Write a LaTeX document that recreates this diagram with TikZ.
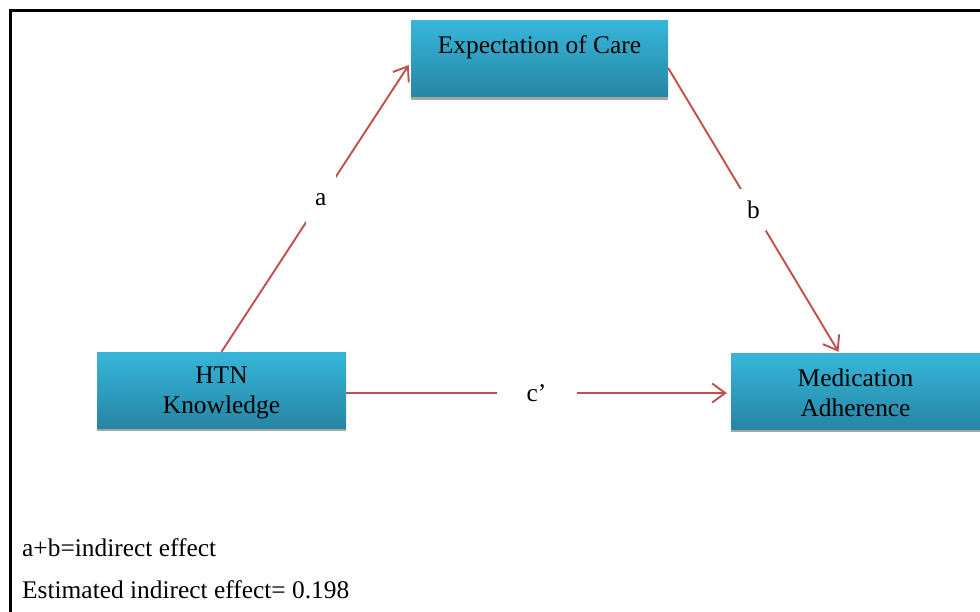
\documentclass[tikz,border=0pt]{standalone}
\usepackage{fontspec}
\setmainfont{Liberation Serif}
\usetikzlibrary{arrows.meta,shadows}
\definecolor{boxtop}{RGB}{54,182,218}
\definecolor{boxbot}{RGB}{38,134,164}
\definecolor{arrowred}{RGB}{192,80,77}
\begin{document}
\begin{tikzpicture}[x=1pt,y=-1pt,
  every node/.style={font=\fontsize{25.4}{30}\selectfont, text=black},
  box/.style={rectangle, inner sep=0pt, top color=boxtop, bottom color=boxbot, draw=none,
    minimum width=249pt, minimum height=76pt, align=center,
    drop shadow={shadow xshift=0pt, shadow yshift=-3pt, fill=black!35, opacity=1}},
  boxtext/.style={inner sep=0pt, align=center},
  conn/.style={draw=arrowred, line width=1.9pt, -{Straight Barb[length=13pt,width=19pt,line width=1.9pt]}},
  gaplabel/.style={fill=white, inner sep=0pt}]
\useasboundingbox (0,0) rectangle (980,612);
\fill[white] (0,0) rectangle (980,612);
\begin{scope}
\clip (0,0) rectangle (980,612);
\draw[line width=3pt, black] (10.5,10.5) rectangle (1000,640);
\node[box, minimum width=257pt] (ec) at (539.5,59) {};
\node[boxtext] (ectext) at (539.5,47) {Expectation of Care};
\node[box] (htn) at (221.5,390) {};
\node[boxtext] (htntext) at (221.5,393) {HTN\\Knowledge};
\node[box] (mad) at (855.5,391) {};
\node[boxtext] (madtext) at (855.5,393) {Medication\\Adherence};
\end{scope}
\draw[conn] (htn.north) -- ([yshift=-6pt,xshift=-2pt]ec.west)
  node[gaplabel, pos=0.53, minimum width=30pt, minimum height=50pt] (la) {a};
\draw[conn] ([yshift=-9pt]ec.east) -- ([xshift=-17pt,yshift=1pt]mad.north)
  node[gaplabel, pos=0.5, minimum width=26pt, minimum height=42pt] (lb) {b};
\draw[conn] ([yshift=-3pt]htn.east) -- ([yshift=-3pt,xshift=-4pt]htn.east -| mad.west)
  node[gaplabel, midway, minimum width=80pt, minimum height=20pt] (lc) {c’};
\node[anchor=base west, inner sep=0pt] (note1) at (22,556) {a+b=indirect effect};
\node[anchor=base west, inner sep=0pt] (note2) at (22,598) {Estimated indirect effect= 0.198};
\end{tikzpicture}
\end{document}
